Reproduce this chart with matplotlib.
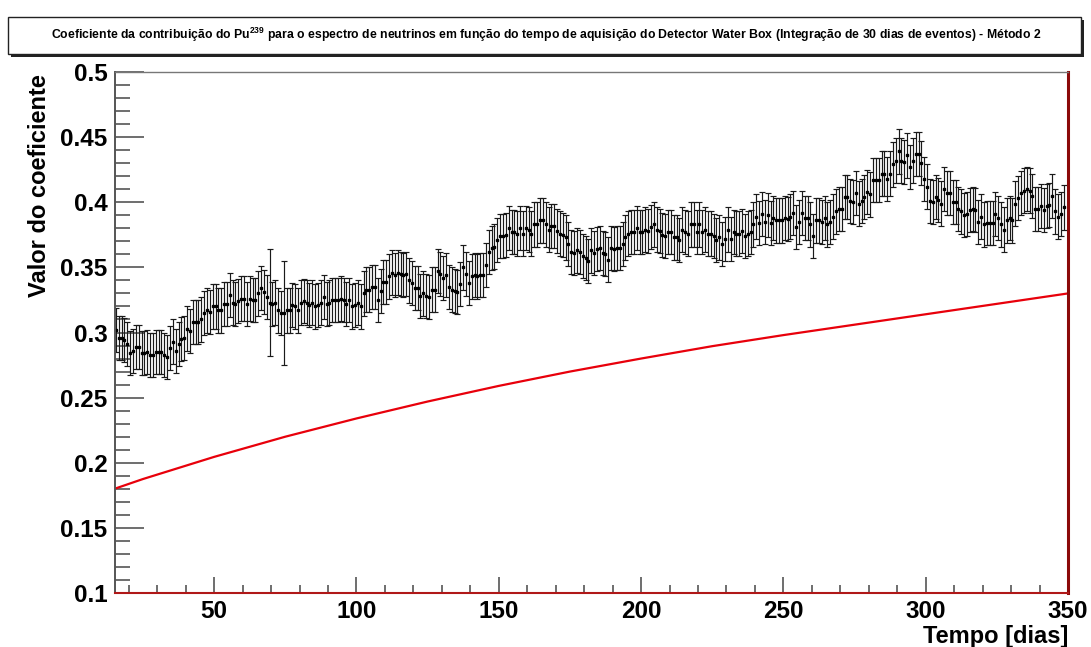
import numpy as np
import matplotlib
matplotlib.use('Agg')
import matplotlib.pyplot as plt
from matplotlib import font_manager
from matplotlib.patches import Rectangle
from matplotlib.ticker import MultipleLocator, FormatStrFormatter

# Pick a narrow font for the title if one is there.
names = {f.name for f in font_manager.fontManager.ttflist}
narrow = 'Liberation Sans Narrow' if 'Liberation Sans Narrow' in names else 'Liberation Sans'
plt.rcParams['font.family'] = ['Liberation Sans', 'DejaVu Sans']
plt.rcParams['mathtext.fontset'] = 'custom'
plt.rcParams['mathtext.rm'] = narrow
plt.rcParams['mathtext.bf'] = narrow + ':bold'

title = ('Coeficiente da contribuição do Pu$^{\\mathbf{239}}$ para o espectro de neutrinos '
         'em função do tempo de aquisição do Detector Water Box '
         '(Integração de 30 dias de eventos) - Método 2')
xlabel = 'Tempo [dias]'
ylabel = 'Valor do coeficiente'

# Coefficient per day (first point at day 15.5).
coef = [
    0.302, 0.296, 0.296, 0.294, 0.291, 0.284, 0.286, 0.289, 0.289, 0.284,
    0.284, 0.285, 0.283, 0.283, 0.285, 0.285, 0.285, 0.283, 0.281, 0.288,
    0.293, 0.286, 0.291, 0.295, 0.296, 0.303, 0.301, 0.308, 0.308, 0.308,
    0.310, 0.315, 0.317, 0.316, 0.320, 0.320, 0.317, 0.317, 0.322, 0.322,
    0.329, 0.323, 0.322, 0.324, 0.326, 0.326, 0.322, 0.326, 0.325, 0.325,
    0.330, 0.334, 0.331, 0.327, 0.323, 0.322, 0.323, 0.317, 0.315,
    0.315, 0.317, 0.317, 0.321, 0.320, 0.317, 0.323, 0.324, 0.323, 0.321,
    0.323, 0.320, 0.321, 0.323, 0.327, 0.322, 0.323, 0.325, 0.325, 0.325,
    0.326, 0.325, 0.322, 0.325, 0.320, 0.321, 0.323, 0.320, 0.330, 0.333,
    0.333, 0.335, 0.335, 0.325, 0.332, 0.339, 0.339, 0.343, 0.346, 0.344,
    0.346, 0.345, 0.344, 0.345, 0.340, 0.338, 0.334, 0.334, 0.328, 0.330,
    0.328, 0.327, 0.333, 0.333, 0.347, 0.345, 0.342,
    0.344, 0.335, 0.333, 0.332, 0.331, 0.337, 0.350, 0.345, 0.338, 0.343,
    0.344, 0.343, 0.344, 0.344, 0.352, 0.362, 0.365, 0.366, 0.371, 0.374,
    0.374, 0.375, 0.380, 0.377, 0.377, 0.376, 0.380, 0.376, 0.380, 0.379,
    0.376, 0.383, 0.383, 0.386, 0.386, 0.383, 0.379, 0.382, 0.382, 0.378,
    0.376, 0.375, 0.373, 0.368, 0.362, 0.361, 0.363, 0.362, 0.359, 0.357,
    0.355, 0.363, 0.361, 0.364, 0.365, 0.361, 0.360, 0.356,
    0.365, 0.364, 0.365, 0.365, 0.368, 0.373, 0.376, 0.377, 0.377, 0.380,
    0.377, 0.377, 0.379, 0.378, 0.381, 0.383, 0.379, 0.378, 0.375, 0.374,
    0.377, 0.377, 0.373, 0.373, 0.371, 0.379, 0.377, 0.376, 0.383, 0.383,
    0.377, 0.383, 0.377, 0.379, 0.376, 0.376, 0.374, 0.371, 0.373, 0.368,
    0.372, 0.379, 0.372, 0.377, 0.376, 0.376, 0.378, 0.374, 0.376, 0.377,
    0.383, 0.389, 0.384, 0.391, 0.385, 0.390, 0.384,
    0.388, 0.386, 0.386, 0.386, 0.388, 0.387, 0.389, 0.392, 0.381, 0.385,
    0.392, 0.388, 0.388, 0.383, 0.374, 0.386, 0.386, 0.385, 0.388, 0.383,
    0.385, 0.389, 0.393, 0.395, 0.395, 0.404, 0.404, 0.401, 0.400, 0.407,
    0.399, 0.401, 0.404, 0.408, 0.406, 0.417, 0.417, 0.417, 0.422, 0.422,
    0.418, 0.422, 0.429, 0.432, 0.439, 0.432, 0.431, 0.436, 0.427, 0.432,
    0.437, 0.437, 0.430, 0.418, 0.412, 0.401, 0.400, 0.404,
    0.402, 0.399, 0.410, 0.407, 0.407, 0.400, 0.400, 0.395, 0.393, 0.390,
    0.391, 0.394, 0.395, 0.394, 0.385, 0.389, 0.383, 0.384, 0.384, 0.384,
    0.391, 0.388, 0.383, 0.379, 0.386, 0.388, 0.386, 0.399, 0.403, 0.407,
    0.409, 0.410, 0.409, 0.405, 0.395, 0.395, 0.397, 0.394, 0.397, 0.398,
    0.405, 0.393, 0.389, 0.391, 0.396,
]
first_day = 15.5
typical_err = 0.017
large_err = {54: 0.041, 59: 0.040}

# Expected coefficient (red curve), read every 25 days.
curve_days = [15, 25, 50, 75, 100, 125, 150, 175, 200, 225, 250, 275, 300, 325, 350]
curve_vals = [0.180, 0.1875, 0.2045, 0.220, 0.234, 0.247, 0.259, 0.270,
              0.280, 0.2895, 0.298, 0.306, 0.314, 0.322, 0.330]

days = first_day + np.arange(len(coef))
err = np.full(len(coef), typical_err)
for i, e in large_err.items():
    err[i] = e

fig = plt.figure(figsize=(10.91, 6.47), dpi=100)
ax = fig.add_axes([114.5 / 1091, 1 - 593 / 647, (1068 - 114.5) / 1091, (593 - 72) / 647])

ax.errorbar(days, coef, yerr=err, fmt='s', ms=1.7, color='black',
            ecolor='#1a1a1a', elinewidth=0.85, capsize=2.2, capthick=0.85)
ax.plot(curve_days, curve_vals, color='#e8000b', lw=1.6)

ax.set_xlim(15, 350)
ax.set_ylim(0.1, 0.5)

ax.xaxis.set_major_locator(MultipleLocator(50))
ax.xaxis.set_minor_locator(MultipleLocator(10))
ax.yaxis.set_major_locator(MultipleLocator(0.05))
ax.yaxis.set_minor_locator(MultipleLocator(0.01))
ax.yaxis.set_major_formatter(FormatStrFormatter('%g'))

ax.tick_params(axis='both', which='both', direction='in', color='#555555',
               width=1.2, top=False, right=False)
ax.tick_params(axis='y', which='major', length=21, pad=5)
ax.tick_params(axis='y', which='minor', length=11)
ax.tick_params(axis='x', which='major', length=11.5, pad=5)
ax.tick_params(axis='x', which='minor', length=6)
for lab in ax.get_xticklabels() + ax.get_yticklabels():
    lab.set_fontsize(17.5)
    lab.set_fontweight('bold')

ax.spines['left'].set_color('#555555')
ax.spines['left'].set_linewidth(1.4)
ax.spines['top'].set_color('#777777')
ax.spines['top'].set_linewidth(1.0)
ax.spines['bottom'].set_color('#b01818')
ax.spines['bottom'].set_linewidth(1.5)
ax.spines['right'].set_color('#8b0a0a')
ax.spines['right'].set_linewidth(2.2)

fig.text(40 / 1091, 1 - 74 / 647, ylabel, rotation=90, ha='center', va='top',
         fontsize=17, fontweight='bold')
fig.text(1068 / 1091, 1 - 636 / 647, xlabel, ha='right', va='center',
         fontsize=17, fontweight='bold')

# Title box with a shadow, ROOT style.
W, H = 1091, 647
x0, y0, x1, y1 = 8, 17, 1081, 54
fig.patches.append(Rectangle(((x0 + 3) / W, 1 - (y1 + 3) / H), (x1 - x0) / W, (y1 - y0) / H,
                             transform=fig.transFigure, facecolor='#222222', edgecolor='none'))
fig.patches.append(Rectangle((x0 / W, 1 - y1 / H), (x1 - x0) / W, (y1 - y0) / H,
                             transform=fig.transFigure, facecolor='white',
                             edgecolor='#222222', linewidth=1.0))
fig.text(546 / W, 1 - 35 / H, title, ha='center', va='center', fontsize=8.8,
         fontweight='bold', family=[narrow, 'DejaVu Sans'])

fig.savefig('out.png', dpi=100, facecolor='white')
